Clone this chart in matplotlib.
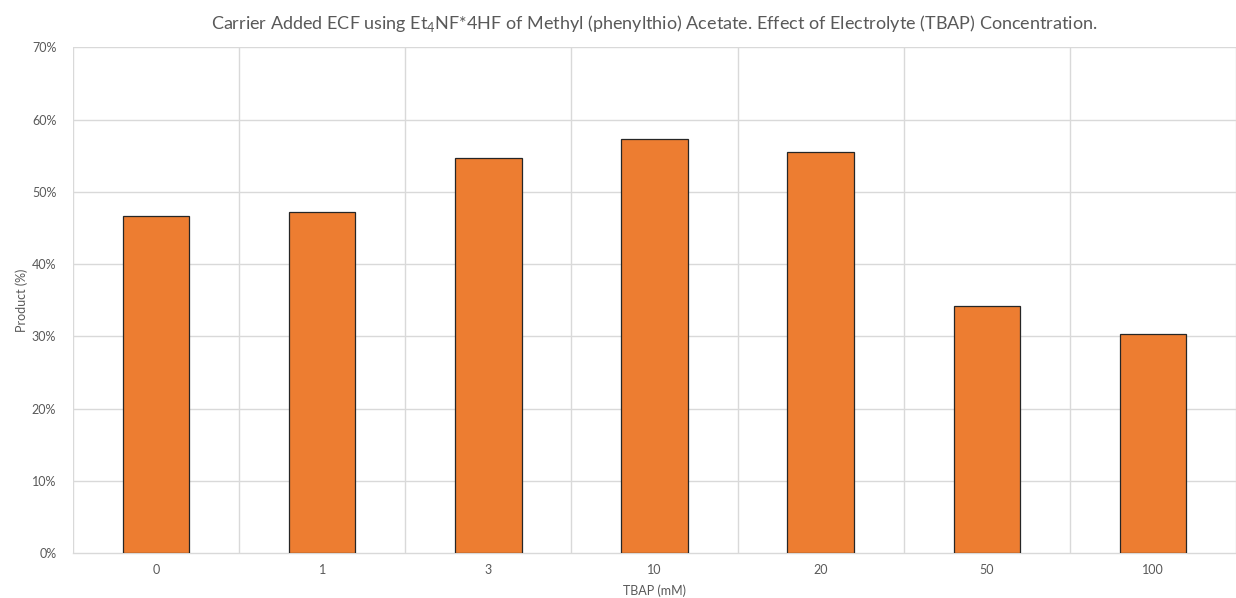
import matplotlib
matplotlib.use('Agg')
import matplotlib.pyplot as plt
import numpy as np

# TBAP concentration (mM) vs product yield (%)
tbap = ['0', '1', '3', '10', '20', '50', '100']
product = [46.6, 47.2, 54.7, 57.3, 55.5, 34.2, 30.3]
yticks = [0, 10, 20, 30, 40, 50, 60, 70]

plt.rcParams['font.family'] = ['Lato', 'DejaVu Sans']
plt.rcParams['mathtext.fontset'] = 'custom'
plt.rcParams['mathtext.rm'] = 'Lato'

grey = '#595959'
gridc = '#d9d9d9'

fig = plt.figure(figsize=(12.36, 5.98), dpi=100)
ax = fig.add_axes([0.059, 0.0753, 0.941, 0.8455])

x = np.arange(len(tbap))
ax.bar(x, product, width=0.4, color='#ED7D31', edgecolor='#262626',
       linewidth=0.9, zorder=3)

ax.set_xlim(-0.5, len(tbap) - 0.5)
ax.set_ylim(0, 70)
ax.set_yticks(yticks)
ax.set_yticklabels(['%d%%' % v for v in yticks])
ax.set_xticks(x)
ax.set_xticklabels(tbap)

# gridlines between categories (category boundaries) and at each y tick
for b in np.arange(-0.5, len(tbap), 1.0):
    ax.axvline(b, color=gridc, lw=1.0, zorder=0)
for v in yticks[1:]:
    ax.axhline(v, color=gridc, lw=1.0, zorder=0)

for s in ['top', 'right', 'left']:
    ax.spines[s].set_visible(False)
ax.spines['bottom'].set_color(gridc)
ax.spines['bottom'].set_linewidth(1.0)

ax.tick_params(axis='both', length=0, labelsize=9, colors=grey, pad=8)
ax.tick_params(axis='y', pad=12)

ax.set_xlabel('TBAP (mM)', fontsize=9, color=grey, labelpad=6)
ax.set_ylabel('Product (%)', fontsize=9, color=grey, labelpad=3)

ax.set_title(r'Carrier Added ECF using Et$_\mathregular{4}$NF*4HF of Methyl (phenylthio) Acetate. '
             'Effect of Electrolyte (TBAP) Concentration.',
             fontsize=13, color=grey, pad=13)

fig.savefig('out.png', dpi=100)
plt.close()
